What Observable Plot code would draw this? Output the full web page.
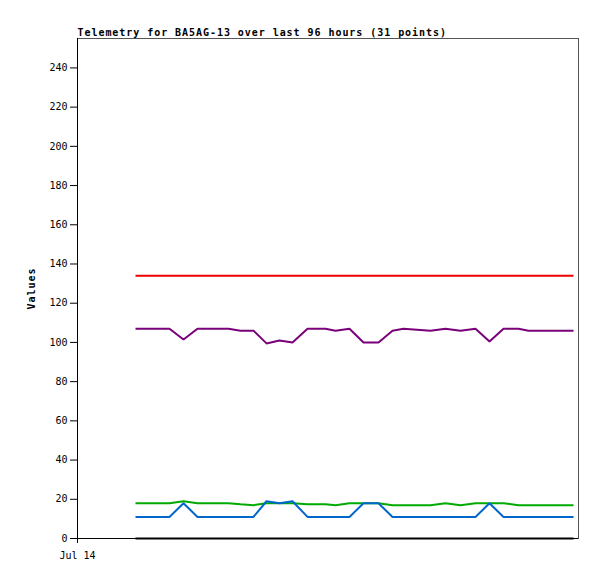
<!DOCTYPE html>
<html>
<head>
<meta charset="utf-8">
<script src="https://cdn.jsdelivr.net/npm/d3@7"></script>
<script src="https://cdn.jsdelivr.net/npm/@observablehq/plot@0.6"></script>
<style>
  html, body { margin: 0; padding: 0; background: #fff; }
</style>
</head>
<body>
<div id="chart"></div>
<script>
const titleText = "Telemetry for BA5AG-13 over last 96 hours (31 points)";
const yLabel = "Values";
const xTickLabel = "Jul 14";
const xDomain = ["2024-07-14T00:00:00Z", "2024-07-18T04:12:00Z"];
const yDomain = [0, 255];
const yTicks = [0, 20, 40, 60, 80, 100, 120, 140, 160, 180, 200, 220, 240];

const times = [
  "2024-07-14T11:36:00Z", "2024-07-14T15:00:00Z", "2024-07-14T18:24:00Z", "2024-07-14T21:12:00Z",
  "2024-07-15T00:00:00Z", "2024-07-15T03:00:00Z", "2024-07-15T06:12:00Z", "2024-07-15T08:36:00Z",
  "2024-07-15T11:12:00Z", "2024-07-15T13:48:00Z", "2024-07-15T16:24:00Z", "2024-07-15T19:00:00Z",
  "2024-07-15T22:00:00Z", "2024-07-16T01:36:00Z", "2024-07-16T03:36:00Z", "2024-07-16T06:24:00Z",
  "2024-07-16T09:12:00Z", "2024-07-16T12:12:00Z", "2024-07-16T15:00:00Z", "2024-07-16T17:12:00Z",
  "2024-07-16T22:36:00Z", "2024-07-17T01:36:00Z", "2024-07-17T04:36:00Z", "2024-07-17T07:36:00Z",
  "2024-07-17T10:24:00Z", "2024-07-17T13:12:00Z", "2024-07-17T16:12:00Z", "2024-07-17T18:12:00Z",
  "2024-07-17T21:12:00Z", "2024-07-18T00:12:00Z", "2024-07-18T03:12:00Z"
];

const ch1 = [134,134,134,134,134,134,134,134,134,134,134,134,134,134,134,134,134,134,134,134,134,134,134,134,134,134,134,134,134,134,134];
const ch2 = [107,107,107,101.5,107,107,107,106,106,99.5,101,100,107,107,106,107,100,100,106,107,106,107,106,107,100.5,107,107,106,106,106,106];
const ch3 = [18,18,18,19,18,18,18,17.5,17,18,18,18,17.5,17.5,17,18,18,18,17,17,17,18,17,18,18,18,17,17,17,17,17];
const ch4 = [11,11,11,18,11,11,11,11,11,19,18,19,11,11,11,11,18,18,11,11,11,11,11,11,18,11,11,11,11,11,11];
const ch5 = [0,0,0,0,0,0,0,0,0,0,0,0,0,0,0,0,0,0,0,0,0,0,0,0,0,0,0,0,0,0,0];

const seriesNames = ["ch1", "ch2", "ch3", "ch4", "ch5"];
const seriesValues = [ch1, ch2, ch3, ch4, ch5];
const colorOf = {ch1: "#ee0000", ch2: "#7a007a", ch3: "#00aa00", ch4: "#0066cc", ch5: "#000000"};

const dates = times.map(t => new Date(t));
const x0 = new Date(xDomain[0]);
const x1 = new Date(xDomain[1]);

const lineMarks = seriesNames.map((name, k) => {
  const rows = dates.map((d, i) => ({t: d, v: seriesValues[k][i]}));
  return Plot.line(rows, {x: "t", y: "v", stroke: colorOf[name], strokeWidth: 2, strokeLinejoin: "miter", strokeLinecap: "butt"});
});

const chart = Plot.plot({
  width: 597,
  height: 579,
  marginLeft: 77,
  marginRight: 19,
  marginTop: 38,
  marginBottom: 41,
  style: {fontFamily: "'DejaVu Sans Mono', monospace", fontSize: "10px", background: "#fff", color: "#000"},
  x: {type: "utc", domain: [x0, x1]},
  y: {domain: yDomain},
  marks: [
    Plot.frame({stroke: "#555", strokeWidth: 1}),
    Plot.axisY({ticks: yTicks, tickSize: 7, tickPadding: 3, label: null, fontSize: 10}),
    Plot.axisX({ticks: [x0], tickFormat: () => xTickLabel, tickSize: 5, tickPadding: 8, label: null, fontSize: 10}),
    Plot.ruleX([x0], {stroke: "#000", strokeWidth: 1}),
    Plot.ruleY([0], {stroke: "#000", strokeWidth: 1}),
    ...lineMarks,
    Plot.text([titleText], {frameAnchor: "top-left", dy: -3, textAnchor: "start", lineAnchor: "bottom", fontWeight: "bold", fontSize: 10}),
    Plot.text([yLabel], {frameAnchor: "left", dx: -46, rotate: -90, textAnchor: "middle", lineAnchor: "middle", fontWeight: "bold", fontSize: 10})
  ]
});

d3.select(chart).selectAll("text").filter(function() {
  const t = this.textContent;
  return t === titleText || t === yLabel;
}).style("letter-spacing", "0.95px");

document.getElementById("chart").appendChild(chart);
</script>
</body>
</html>
